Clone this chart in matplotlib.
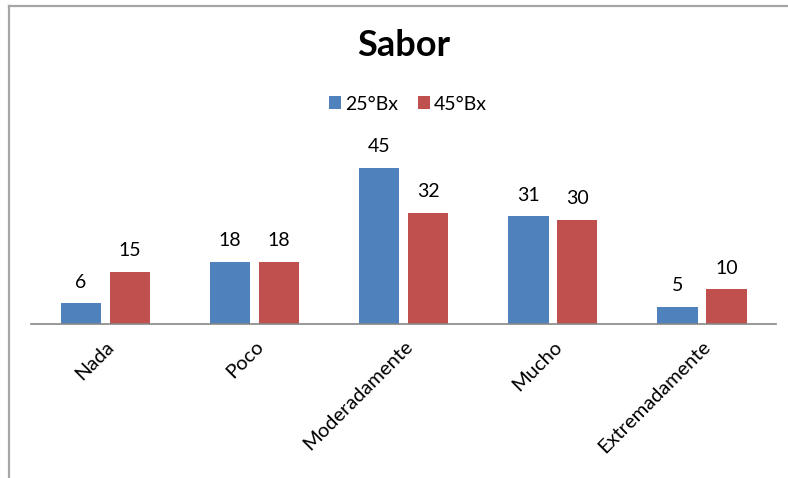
import numpy as np
import matplotlib.pyplot as plt
from matplotlib.lines import Line2D

plt.rcParams['font.family'] = ['Lato', 'DejaVu Sans']

categorias = ["Nada", "Poco", "Moderadamente", "Mucho", "Extremadamente"]
bx25 = [6, 18, 45, 31, 5]
bx45 = [15, 18, 32, 30, 10]

azul = "#4F81BD"
rojo = "#C0504D"

fig = plt.figure(figsize=(7.88, 4.78), dpi=100)
ax = fig.add_axes([31 / 788, 1 - 324 / 478, (776.5 - 31) / 788, (324 - 150.5) / 478])

x = np.arange(len(categorias))
w = 0.27
off = 0.164
b1 = ax.bar(x - off, bx25, w, color=azul, label="25°Bx")
b2 = ax.bar(x + off, bx45, w, color=rojo, label="45°Bx")

for barras in (b1, b2):
    for b in barras:
        ax.annotate(str(int(b.get_height())), (b.get_x() + b.get_width() / 2, b.get_height()),
                    xytext=(0, 9), textcoords="offset points", ha="center", va="bottom",
                    fontsize=14)

ax.set_xlim(-0.5, 4.5)
ax.set_ylim(0, 50)
ax.set_yticks([])
ax.set_xticks(x)
ax.set_xticklabels(categorias, rotation=45, ha="right", rotation_mode="anchor", fontsize=14.5)
ax.tick_params(axis="x", length=0, pad=10)
for s in ["top", "right", "left"]:
    ax.spines[s].set_visible(False)
ax.spines["bottom"].set_color("#868686")
ax.spines["bottom"].set_linewidth(1.2)
ax.patch.set_alpha(0)

fig.text(404 / 788, 1 - 46 / 478, "Sabor", ha="center", va="center", fontsize=26, fontweight="bold")
fig.legend(handles=[b1, b2], loc="center", bbox_to_anchor=(408 / 788, 1 - 104 / 478), ncol=2,
           frameon=False, fontsize=14, handlelength=0.65, handleheight=0.65, handletextpad=0.2,
           columnspacing=1.0)

# marco
gris = "#A6A6A6"
fig.add_artist(Line2D([8.5 / 788, 8.5 / 788], [0, 1 - 5.5 / 478], color=gris, lw=1.6, transform=fig.transFigure))
fig.add_artist(Line2D([8.5 / 788, 1], [1 - 5.5 / 478, 1 - 5.5 / 478], color=gris, lw=1.6, transform=fig.transFigure))

fig.savefig("out.png", dpi=100)
